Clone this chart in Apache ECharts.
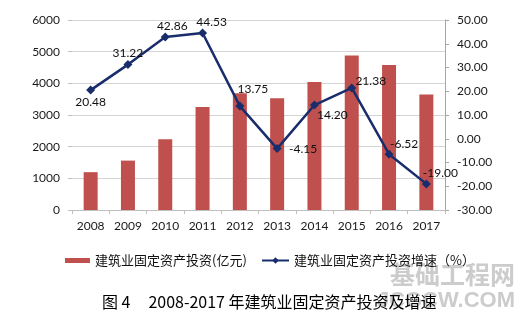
<!DOCTYPE html>
<html>
<head>
<meta charset="utf-8">
<script src="https://cdn.jsdelivr.net/npm/echarts@6/dist/echarts.min.js"></script>
<style>
html,body{margin:0;padding:0;background:#fff;}
#c{width:530px;height:327px;}
</style>
</head>
<body>
<div id="c"></div>
<script>
var years = ['2008','2009','2010','2011','2012','2013','2014','2015','2016','2017'];
var investment = [1195, 1560, 2235, 3250, 3690, 3530, 4040, 4880, 4580, 3650];
var growth = [20.48, 31.22, 42.86, 44.53, 13.75, -4.15, 14.20, 21.38, -6.52, -19.00];
var barName = '建筑业固定资产投资(亿元)';
var lineName = '建筑业固定资产投资增速（%）';
var figureTitle = '图 4     2008-2017 年建筑业固定资产投资及增速';
var watermark1 = '基础工程网';
var watermark2 = 'JCGCW.COM';

// label offsets (label center relative to point)
var labelOffsets = [[0,12],[0,-11],[7,-11],[9,-11],[13,-17],[26,1],[18,10],[19,-7],[15,-10],[14,-11]];

var numFont = 'Lato, "Liberation Sans", sans-serif';
var cjkFont = '"Noto Sans CJK SC", sans-serif';

var chart = echarts.init(document.getElementById('c'), null, {renderer:'canvas'});
var lineData = growth.map(function(v,i){
  return {value:v, label:{offset:labelOffsets[i]}};
});
chart.setOption({
  animation:false,
  backgroundColor:'#ffffff',
  grid:{left:72, right:85, top:20, bottom:117, containLabel:false},
  legend:[{
    left:60, top:249, itemWidth:25, itemHeight:5, itemGap:10,
    data:[{name:barName, icon:'rect'}],
    textStyle:{fontSize:13, color:'#111', fontFamily:cjkFont}
  },{
    left:256, top:249, itemWidth:27, itemHeight:8, itemGap:10,
    data:[{name:lineName}],
    textStyle:{fontSize:13, color:'#111', fontFamily:cjkFont}
  }],
  xAxis:{
    type:'category', data:years,
    axisLine:{show:true, lineStyle:{color:'#BFBFBF', width:1}},
    axisTick:{show:true, alignWithLabel:false, length:4, lineStyle:{color:'#BFBFBF'}},
    axisLabel:{margin:10, fontSize:12, color:'#1a1a1a', fontFamily:numFont}
  },
  yAxis:[{
    type:'value', min:0, max:6000, interval:1000,
    axisLine:{show:false},
    axisTick:{show:true, length:4, lineStyle:{color:'#BFBFBF'}},
    axisLabel:{margin:12, fontSize:12, color:'#1a1a1a', fontFamily:numFont,
      formatter:function(v){return String(v);}},
    splitLine:{show:true, lineStyle:{color:'#D4D4D4', width:1}}
  },{
    type:'value', min:-30, max:50, interval:10, position:'right',
    axisLine:{show:true, lineStyle:{color:'#A6A6A6', width:1}},
    axisTick:{show:true, length:4, lineStyle:{color:'#A6A6A6'}},
    axisLabel:{margin:12, fontSize:12, color:'#1a1a1a', fontFamily:numFont,
      formatter:function(v){return v.toFixed(2);}},
    splitLine:{show:false}
  }],
  series:[{
    name:barName, type:'bar', data:investment, barWidth:14, yAxisIndex:0,
    itemStyle:{color:'#C0504D'}
  },{
    name:lineName, type:'line', data:lineData, yAxisIndex:1,
    symbol:'diamond', symbolSize:9,
    lineStyle:{color:'#192D6C', width:2.5},
    itemStyle:{color:'#192D6C'},
    label:{show:true, position:'inside', fontSize:12, color:'#111', fontFamily:numFont,
      formatter:function(p){return p.value.toFixed(2);}}
  }],
  graphic:[{
    type:'text', right:15, top:262, z:1,
    style:{text:watermark1, fontSize:25, fontWeight:'bold', fill:'#cccccc', fontFamily:cjkFont}
  },{
    type:'text', right:15, top:290, z:1,
    style:{text:watermark2, fontSize:22, fontWeight:'bold', fill:'#cccccc', fontFamily:'"Liberation Sans", sans-serif'}
  },{
    type:'text', left:102, top:294, z:10,
    style:{text:figureTitle, fontSize:16, fill:'#000', fontFamily:cjkFont}
  }]
});
</script>
</body>
</html>
